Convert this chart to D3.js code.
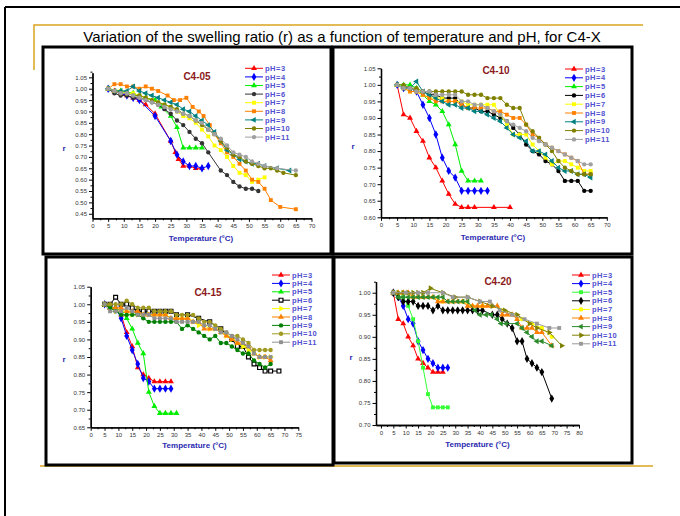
<!DOCTYPE html>
<html>
<head>
<meta charset="utf-8">
<title>Swelling ratio C4-X</title>
<style>
body { margin: 0; background: #fff; }
svg { font-family: Arial, 'Liberation Sans', sans-serif; }
.frame { fill: none; stroke: #000; stroke-width: 3px; }
.deco { stroke-width: 2px; }
.gold { stroke: #d9a520; stroke-width: 1.5px; fill: none; }
.axis path, .axis line { stroke: #000; }
.axis path { stroke-width: 1.3px; }
.axis text { font-size: 6px; fill: #333; }
.ptitle { fill: #8b1a1a; font-size: 10px; font-weight: bold; text-anchor: middle; }
.legend text { fill: #5050d0; font-size: 7.5px; font-weight: bold; letter-spacing: 0.5px; }
.alabel { fill: #2a2ab0; font-size: 8px; font-weight: bold; text-anchor: middle; }
.main { font-size: 15px; fill: #000; text-anchor: middle; }
</style>
</head>
<body>
<svg width="680" height="516"></svg>
<script src="https://d3js.org/d3.v7.min.js"></script>
<script>
// series labels, same for every panel
var phLabels = ["pH=3", "pH=4", "pH=5", "pH=6", "pH=7", "pH=8", "pH=9", "pH=10", "pH=11"];
var panelNames = ["C4-05", "C4-10", "C4-15", "C4-20"];

// [temperature, r] pairs, one list per pH (3 .. 11)
var c405 = [
  [[5,1.00],[7,0.99],[9,0.98],[11,0.97],[13,0.96],[15,0.95],[17,0.93],[20,0.89],[25,0.77],[26.5,0.72],[27.5,0.69],[29,0.66],[31,0.66],[33,0.65],[35,0.65]],
  [[5,1.00],[9,0.98],[11,0.97],[13,0.96],[15,0.95],[20,0.88],[25,0.77],[27,0.71],[29,0.68],[31,0.66],[33,0.66],[35,0.65],[37,0.66]],
  [[5,1.00],[9,0.99],[13,0.98],[17,0.96],[20,0.95],[22,0.92],[25,0.88],[27,0.83],[29,0.74],[31,0.74],[33,0.74],[35,0.74]],
  [[5,1.00],[7,0.98],[9,0.97],[11,0.97],[13,0.96],[15,0.96],[17,0.95],[19,0.94],[21,0.93],[23,0.91],[25,0.89],[27,0.86],[29,0.84],[31,0.81],[33,0.78],[35,0.76],[37,0.72],[41,0.64],[43,0.62],[45,0.59],[47,0.57],[49,0.56],[51,0.56],[53,0.55]],
  [[5,1.00],[7,0.99],[9,0.99],[11,0.98],[13,0.98],[15,0.97],[17,0.96],[19,0.95],[21,0.94],[23,0.93],[25,0.92],[27,0.90],[29,0.88],[31,0.87],[33,0.85],[35,0.82],[37,0.79],[39,0.75],[41,0.73],[43,0.70],[45,0.66],[47,0.63],[49,0.62],[51,0.59],[53,0.60],[55,0.61]],
  [[5,1.00],[7,1.02],[9,1.02],[11,1.01],[13,1.01],[15,1.00],[17,1.01],[19,1.00],[21,0.99],[24,0.97],[26,0.95],[28,0.95],[30,0.96],[32,0.92],[34,0.90],[35.5,0.88],[37.5,0.84],[39,0.80],[41,0.76],[43,0.72],[45,0.70],[47,0.67],[49,0.64],[51,0.60],[53,0.59],[55,0.56],[57,0.51],[60,0.48],[65,0.47]],
  [[5,1.00],[7,0.99],[9,0.99],[11,0.99],[13,1.01],[15,0.99],[17,0.98],[19,0.97],[21,0.96],[23,0.95],[25,0.94],[27,0.93],[29,0.91],[31,0.90],[33,0.88],[35,0.86],[37,0.84],[39,0.81],[41,0.77],[43,0.73],[45,0.71],[47,0.69],[49,0.68],[51,0.67],[53,0.67],[55,0.66],[59,0.65],[63,0.64]],
  [[5,1.00],[7,0.99],[9,0.98],[11,0.98],[13,0.97],[15,0.97],[17,0.96],[19,0.95],[21,0.94],[23,0.93],[25,0.92],[27,0.91],[29,0.89],[31,0.88],[33,0.86],[35,0.84],[37,0.82],[39,0.80],[41,0.77],[43,0.74],[45,0.71],[47,0.70],[49,0.68],[51,0.67],[53,0.66],[55,0.65],[57,0.65],[59,0.64],[61,0.63],[65,0.62]],
  [[5,1.00],[7,0.99],[9,0.98],[11,0.98],[13,0.97],[15,0.96],[17,0.95],[19,0.94],[21,0.93],[23,0.92],[25,0.91],[27,0.90],[29,0.89],[31,0.88],[33,0.86],[35,0.85],[37,0.82],[39,0.80],[41,0.78],[43,0.75],[45,0.72],[47,0.71],[49,0.70],[51,0.68],[53,0.67],[55,0.66],[59,0.65],[65,0.64]]
];

var c410 = [
  [[5,1.00],[7,0.91],[9,0.90],[11,0.86],[13,0.83],[15,0.78],[17,0.75],[19,0.71],[21,0.67],[23,0.64],[25,0.63],[27,0.63],[29,0.63],[35,0.63],[40,0.63]],
  [[5,1.00],[7,0.99],[9,0.99],[11,0.98],[13,0.94],[15,0.90],[17,0.85],[19,0.78],[21,0.74],[23,0.72],[25,0.68],[27,0.68],[29,0.68],[31,0.68],[33,0.68]],
  [[5,1.00],[7,1.00],[9,1.00],[11,0.99],[13,0.97],[15,0.95],[17,0.94],[19,0.92],[21,0.88],[23,0.82],[25,0.74],[27,0.71],[29,0.71],[31,0.71]],
  [[5,1.00],[7,0.99],[9,0.99],[11,0.98],[13,0.98],[15,0.97],[17,0.97],[19,0.96],[21,0.96],[23,0.96],[25,0.94],[27,0.93],[29,0.93],[31,0.92],[33,0.92],[35,0.91],[37,0.90],[39,0.89],[41,0.87],[43,0.85],[45,0.82],[47,0.80],[49,0.79],[51,0.77],[53,0.76],[55,0.74],[57,0.71],[59,0.71],[61,0.71],[63,0.68],[65,0.68]],
  [[5,1.00],[7,0.99],[9,0.98],[11,0.98],[13,0.97],[15,0.96],[17,0.96],[19,0.96],[21,0.95],[23,0.95],[25,0.95],[27,0.94],[29,0.94],[31,0.94],[33,0.94],[35,0.94],[37,0.91],[39,0.88],[41,0.85],[43,0.85],[45,0.85],[47,0.82],[49,0.80],[51,0.78],[53,0.76],[55,0.77],[57,0.77],[59,0.76],[61,0.75],[63,0.74],[65,0.74]],
  [[5,1.00],[7,0.99],[9,0.98],[11,0.98],[13,0.97],[15,0.96],[17,0.95],[19,0.95],[21,0.95],[23,0.95],[25,0.94],[27,0.93],[29,0.93],[31,0.93],[33,0.93],[35,0.92],[37,0.92],[39,0.91],[41,0.90],[43,0.90],[45,0.88],[47,0.85],[49,0.84],[51,0.82],[53,0.81],[55,0.80],[57,0.79],[59,0.78],[61,0.77],[63,0.73],[65,0.73]],
  [[5,1.00],[7,0.99],[9,0.99],[11,1.01],[13,0.98],[15,0.97],[17,0.96],[19,0.95],[21,0.94],[23,0.94],[25,0.93],[27,0.93],[29,0.92],[31,0.92],[33,0.91],[35,0.90],[37,0.89],[39,0.87],[41,0.85],[43,0.84],[45,0.83],[47,0.80],[49,0.80],[51,0.79],[53,0.77],[55,0.75],[57,0.74],[59,0.74],[61,0.73],[63,0.73],[65,0.72]],
  [[5,1.00],[7,1.00],[9,0.99],[11,0.99],[13,0.98],[15,0.98],[17,0.98],[19,0.98],[21,0.98],[23,0.98],[25,0.98],[27,0.97],[29,0.97],[31,0.97],[33,0.96],[35,0.96],[37,0.96],[39,0.94],[41,0.93],[43,0.93],[45,0.88],[47,0.86],[49,0.84],[51,0.82],[53,0.80],[55,0.77],[57,0.75],[59,0.74],[61,0.73],[63,0.73],[65,0.73]],
  [[5,1.00],[7,0.99],[9,0.99],[11,0.98],[13,0.98],[15,0.98],[17,0.97],[19,0.97],[21,0.97],[23,0.97],[25,0.95],[27,0.95],[29,0.94],[31,0.94],[33,0.93],[35,0.92],[37,0.91],[39,0.89],[41,0.88],[43,0.87],[45,0.86],[47,0.84],[49,0.83],[51,0.82],[53,0.81],[55,0.80],[57,0.79],[59,0.78],[61,0.77],[63,0.76],[65,0.76]]
];

var c415 = [
  [[5,1.00],[7,0.99],[9,0.99],[11,0.97],[13,0.92],[15,0.88],[17,0.82],[19,0.80],[21,0.79],[23,0.78],[25,0.78],[27,0.78],[29,0.78]],
  [[5,1.00],[7,0.99],[9,0.99],[11,0.96],[13,0.91],[15,0.87],[17,0.83],[19,0.79],[21,0.78],[23,0.76],[25,0.76],[27,0.76],[29,0.76]],
  [[5,1.00],[7,0.99],[9,0.99],[11,0.98],[13,0.96],[15,0.93],[17,0.89],[19,0.86],[21,0.75],[23,0.71],[25,0.69],[27,0.69],[29,0.69],[31,0.69]],
  [[5,1.00],[7,1.00],[9,1.02],[11,1.00],[13,1.00],[15,0.99],[17,0.98],[19,0.98],[21,0.98],[23,0.98],[25,0.98],[27,0.98],[29,0.98],[31,0.97],[35,0.97],[39,0.96],[43,0.95],[47,0.93],[51,0.90],[53,0.88],[55,0.88],[57,0.85],[59,0.83],[61,0.82],[63,0.81],[65,0.81],[68,0.81]],
  [[5,1.00],[7,0.99],[9,0.98],[11,0.98],[13,0.98],[15,0.97],[17,0.97],[19,0.97],[21,0.97],[23,0.97],[25,0.97],[27,0.97],[29,0.96],[31,0.96],[33,0.96],[35,0.96],[37,0.95],[39,0.94],[41,0.94],[43,0.93],[45,0.93],[47,0.92],[49,0.91],[51,0.90],[53,0.89],[55,0.88],[57,0.87],[59,0.86],[61,0.85],[63,0.85],[65,0.85]],
  [[5,1.00],[7,0.99],[9,0.99],[11,0.99],[13,0.98],[15,0.98],[17,0.98],[19,0.97],[21,0.97],[23,0.97],[25,0.97],[27,0.97],[29,0.96],[31,0.96],[33,0.96],[35,0.96],[37,0.95],[39,0.95],[41,0.93],[43,0.93],[45,0.93],[47,0.92],[49,0.91],[51,0.90],[53,0.89],[55,0.89],[57,0.88],[59,0.86],[61,0.85],[63,0.85],[65,0.84]],
  [[5,1.00],[7,0.99],[9,0.98],[11,0.97],[13,0.97],[15,0.97],[17,0.97],[19,0.96],[21,0.95],[23,0.95],[25,0.95],[27,0.95],[29,0.95],[31,0.95],[33,0.93],[35,0.94],[37,0.93],[39,0.92],[41,0.91],[43,0.90],[45,0.91],[47,0.89],[49,0.89],[51,0.88],[53,0.87],[55,0.86],[57,0.86],[59,0.84],[61,0.83],[63,0.82],[65,0.83]],
  [[5,1.00],[7,1.00],[9,1.00],[11,1.00],[13,1.01],[15,1.00],[17,0.99],[19,0.99],[21,0.99],[23,0.98],[25,0.98],[27,0.98],[29,0.98],[31,0.97],[33,0.97],[35,0.97],[37,0.97],[39,0.96],[41,0.95],[43,0.95],[45,0.94],[47,0.93],[49,0.92],[51,0.91],[53,0.91],[55,0.90],[57,0.89],[59,0.87],[61,0.87],[63,0.87],[65,0.87]],
  [[5,1.00],[7,0.98],[9,0.98],[11,0.98],[13,0.99],[15,0.98],[17,0.97],[19,0.97],[21,0.97],[23,0.96],[25,0.96],[27,0.96],[29,0.96],[31,0.95],[33,0.95],[35,0.95],[37,0.95],[39,0.95],[41,0.94],[43,0.94],[45,0.93],[47,0.92],[49,0.92],[51,0.91],[53,0.90],[55,0.89],[57,0.88],[59,0.86],[61,0.85],[63,0.85],[65,0.85]]
];

var c420 = [
  [[5,1.00],[7,0.94],[9,0.93],[11,0.90],[13,0.88],[15,0.85],[17,0.84],[19,0.83],[21,0.82],[23,0.82],[25,0.82]],
  [[5,1.00],[7,0.99],[9,0.97],[11,0.94],[13,0.93],[15,0.89],[17,0.87],[19,0.85],[21,0.84],[23,0.83],[25,0.83],[27,0.83]],
  [[5,1.00],[7,0.99],[9,0.99],[11,0.97],[13,0.94],[15,0.89],[17,0.83],[19,0.77],[21,0.74],[23,0.74],[25,0.74],[27,0.74]],
  [[5,1.00],[7,0.99],[9,0.98],[11,0.98],[13,0.98],[15,0.97],[17,0.97],[19,0.97],[21,0.96],[23,0.97],[25,0.96],[27,0.96],[29,0.96],[31,0.96],[33,0.96],[35,0.96],[37,0.96],[39,0.96],[41,0.96],[45,0.95],[47,0.95],[49,0.94],[51,0.93],[53,0.92],[55,0.89],[57,0.89],[59,0.85],[61,0.84],[63,0.83],[65,0.82],[69,0.76]],
  [[5,1.00],[9,1.00],[13,0.99],[17,0.99],[21,0.99],[25,0.98],[29,0.98],[33,0.98],[37,0.97],[41,0.97],[45,0.97],[49,0.96],[53,0.95],[57,0.94],[61,0.93],[65,0.92],[69,0.90]],
  [[5,1.00],[7,1.00],[9,1.00],[11,1.00],[13,0.99],[15,0.99],[17,0.99],[19,0.99],[21,0.99],[23,0.98],[25,0.98],[27,0.98],[29,0.98],[31,0.98],[33,0.98],[35,0.97],[37,0.97],[39,0.97],[41,0.97],[43,0.97],[45,0.97],[47,0.97],[49,0.95],[51,0.95],[53,0.95],[55,0.94],[57,0.92],[59,0.92],[61,0.92],[63,0.91],[65,0.91],[69,0.88]],
  [[5,1.00],[7,0.99],[9,0.99],[11,0.99],[13,0.99],[15,0.99],[17,0.99],[19,0.99],[21,0.99],[23,0.99],[25,0.99],[27,0.98],[29,0.98],[31,0.98],[33,0.98],[35,0.98],[38,0.96],[40,0.95],[42.5,0.95],[44.5,0.95],[47,0.94],[48.5,0.93],[50.5,0.93],[55,0.93],[57,0.92],[59,0.91],[61,0.90],[63,0.89],[65,0.89],[69,0.88]],
  [[5,1.00],[7,1.00],[9,1.00],[11,1.00],[13,1.00],[15,1.00],[17,1.00],[20,1.01],[25,1.00],[30,0.99],[35,0.99],[40,0.98],[45,0.97],[50,0.96],[55,0.95],[60,0.93],[63,0.92],[68,0.91],[73,0.88]],
  [[5,1.00],[10,1.00],[15,1.00],[19,1.00],[25,1.00],[29,0.99],[35,0.99],[40,0.98],[44,0.98],[48,0.96],[53,0.95],[58,0.94],[63,0.93],[68,0.92],[72,0.92]]
];

// tick values
var yTicks405 = [0.45,0.50,0.55,0.60,0.65,0.70,0.75,0.80,0.85,0.90,0.95,1.00,1.05];
var yTicks410 = [0.60,0.65,0.70,0.75,0.80,0.85,0.90,0.95,1.00,1.05];
var yTicks415 = [0.65,0.70,0.75,0.80,0.85,0.90,0.95,1.00,1.05];
var yTicks420 = [0.70,0.75,0.80,0.85,0.90,0.95,1.00];
var xTicks70 = [0,5,10,15,20,25,30,35,40,45,50,55,60,65,70];
var xTicks75 = [0,5,10,15,20,25,30,35,40,45,50,55,60,65,70,75];
var xTicks80 = [0,5,10,15,20,25,30,35,40,45,50,55,60,65,70,75,80];

var svg = d3.select("svg");

// page decoration
svg.append("line").attr("class", "deco").attr("stroke", "#000").attr("x1", 5).attr("y1", 7).attr("x2", 680).attr("y2", 7);
svg.append("line").attr("class", "deco").attr("stroke", "#000").attr("x1", 5).attr("y1", 7).attr("x2", 5).attr("y2", 516);
svg.append("path").attr("class", "gold").attr("d", "M34,70V25H643");
svg.append("line").attr("class", "gold").attr("x1", 40).attr("y1", 466).attr("x2", 653).attr("y2", 466);

svg.append("text").attr("class", "main").attr("x", 342).attr("y", 42)
  .text("Variation of the swelling ratio (r) as a function of temperature and pH, for C4-X");

var panels = [
  { data: c405, frame: [43, 47, 331, 254], xd: [0, 70], xr: [92.5, 311.5], yd: [0.43, 1.07], yr: [218.3, 72.8],
    yt: yTicks405, xt: xTicks70, title: [197, 80], leg: [245, 68.3, 8.6], r: [64, 151], temp: [201, 241],
    colors: ["#ff0000","#0000ff","#00ee00","#333333","#ffff00","#ff8000","#008080","#808000","#a0a0a0"],
    shapes: ["tri","dia","tri","circ","sq","sq","ltri","circ","circ"] },
  { data: c410, frame: [333, 47, 632, 254], xd: [0, 70], xr: [381, 606.8], yd: [0.60, 1.05], yr: [217.3, 68.3],
    yt: yTicks410, xt: xTicks70, title: [496, 74], leg: [565, 69, 8.8], r: [353, 149], temp: [493, 240],
    colors: ["#ff0000","#0000ff","#00ee00","#000000","#ffff00","#ff8000","#008080","#808000","#a0a0a0"],
    shapes: ["tri","dia","tri","circ","sq","sq","ltri","circ","circ"] },
  { data: c415, frame: [46, 257, 333, 465], xd: [0, 75], xr: [90.7, 298.3], yd: [0.65, 1.05], yr: [427.3, 286.7],
    yt: yTicks415, xt: xTicks75, title: [208, 296], leg: [272, 275, 8.4], r: [64, 362], temp: [194.5, 448],
    colors: ["#ff0000","#0000ff","#00ee00","#000000","#ffff00","#ff8000","#008000","#a09a20","#909090"],
    shapes: ["tri","dia","tri","osq","rtri","tri","circ","circ","sq"] },
  { data: c420, frame: [334, 257, 632, 463], xd: [-2, 80], xr: [376, 579], yd: [0.70, 1.025], yr: [425, 281.7],
    yt: yTicks420, xt: xTicks80, title: [498, 285], leg: [572, 275, 8.6], r: [351, 360], temp: [477.5, 447],
    colors: ["#ff0000","#0000ff","#33ff33","#000000","#ffff00","#ff8000","#2e8b2e","#808000","#999999"],
    shapes: ["tri","dia","sq","dia","circ","tri","ltri","rtri","sq"] }
];

var symType = { tri: d3.symbolTriangle, ltri: d3.symbolTriangle, rtri: d3.symbolTriangle,
  dia: d3.symbolDiamond, circ: d3.symbolCircle, sq: d3.symbolSquare, osq: d3.symbolSquare };
var symRot = { ltri: -90, rtri: 90 };

function marker(sel, shape, color, cx, cy) {
  sel.append("path")
    .attr("d", d3.symbol().type(symType[shape]).size(shape === "dia" ? 20 : 15)())
    .attr("transform", "translate(" + cx + "," + cy + ") rotate(" + (symRot[shape] || 0) + ")")
    .attr("fill", shape === "osq" ? "#fff" : color)
    .attr("stroke", shape === "osq" ? color : "none")
    .attr("stroke-width", 1.2);
}

panels.forEach(function (p, k) {
  var g = svg.append("g");
  g.append("rect").attr("class", "frame")
    .attr("x", p.frame[0]).attr("y", p.frame[1])
    .attr("width", p.frame[2] - p.frame[0]).attr("height", p.frame[3] - p.frame[1]);

  var x = d3.scaleLinear().domain(p.xd).range(p.xr);
  var y = d3.scaleLinear().domain(p.yd).range(p.yr);

  // minor ticks
  var yMinor = p.yt.map(function (v) { return v - 0.025; }).filter(function (v) { return v >= p.yd[0]; });
  if (p.yd[1] - p.yt[p.yt.length - 1] > 0.02) yMinor.push(p.yt[p.yt.length - 1] + 0.025);
  var xMinor = p.xt.map(function (v) { return v + 2.5; }).filter(function (v) { return v < p.xd[1]; });

  g.append("g").attr("class", "axis").attr("transform", "translate(" + p.xr[0] + ",0)")
    .call(d3.axisLeft(y).tickValues(yMinor).tickSize(2).tickSizeOuter(0).tickFormat(""));
  g.append("g").attr("class", "axis").attr("transform", "translate(" + p.xr[0] + ",0)")
    .call(d3.axisLeft(y).tickValues(p.yt).tickSize(3.5).tickSizeOuter(0).tickPadding(2).tickFormat(d3.format(".2f")));
  g.append("g").attr("class", "axis").attr("transform", "translate(0," + p.yr[0] + ")")
    .call(d3.axisBottom(x).tickValues(xMinor).tickSize(2).tickSizeOuter(0).tickFormat(""));
  g.append("g").attr("class", "axis").attr("transform", "translate(0," + p.yr[0] + ")")
    .call(d3.axisBottom(x).tickValues(p.xt).tickSize(3.5).tickSizeOuter(0).tickPadding(2));

  var line = d3.line().x(function (d) { return x(d[0]); }).y(function (d) { return y(d[1]); });

  p.data.forEach(function (s, i) {
    var c = p.colors[i];
    g.append("path").datum(s).attr("d", line)
      .attr("fill", "none").attr("stroke", c).attr("stroke-width", 1);
    var mg = g.append("g");
    s.forEach(function (d) { marker(mg, p.shapes[i], c, x(d[0]), y(d[1])); });
  });

  g.append("text").attr("class", "ptitle").attr("x", p.title[0]).attr("y", p.title[1]).text(panelNames[k]);
  g.append("text").attr("class", "alabel").attr("x", p.r[0]).attr("y", p.r[1]).text("r");
  g.append("text").attr("class", "alabel").attr("x", p.temp[0]).attr("y", p.temp[1]).text("Temperature (\u00B0C)");

  var leg = g.append("g").attr("class", "legend");
  phLabels.forEach(function (lab, i) {
    var ly = p.leg[1] + i * p.leg[2];
    leg.append("line").attr("x1", p.leg[0]).attr("x2", p.leg[0] + 18)
      .attr("y1", ly).attr("y2", ly).attr("stroke", p.colors[i]).attr("stroke-width", 1);
    marker(leg, p.shapes[i], p.colors[i], p.leg[0] + 9, ly);
    leg.append("text").attr("x", p.leg[0] + 20).attr("y", ly).attr("dy", "0.35em").text(lab);
  });
});
</script>
</body>
</html>
